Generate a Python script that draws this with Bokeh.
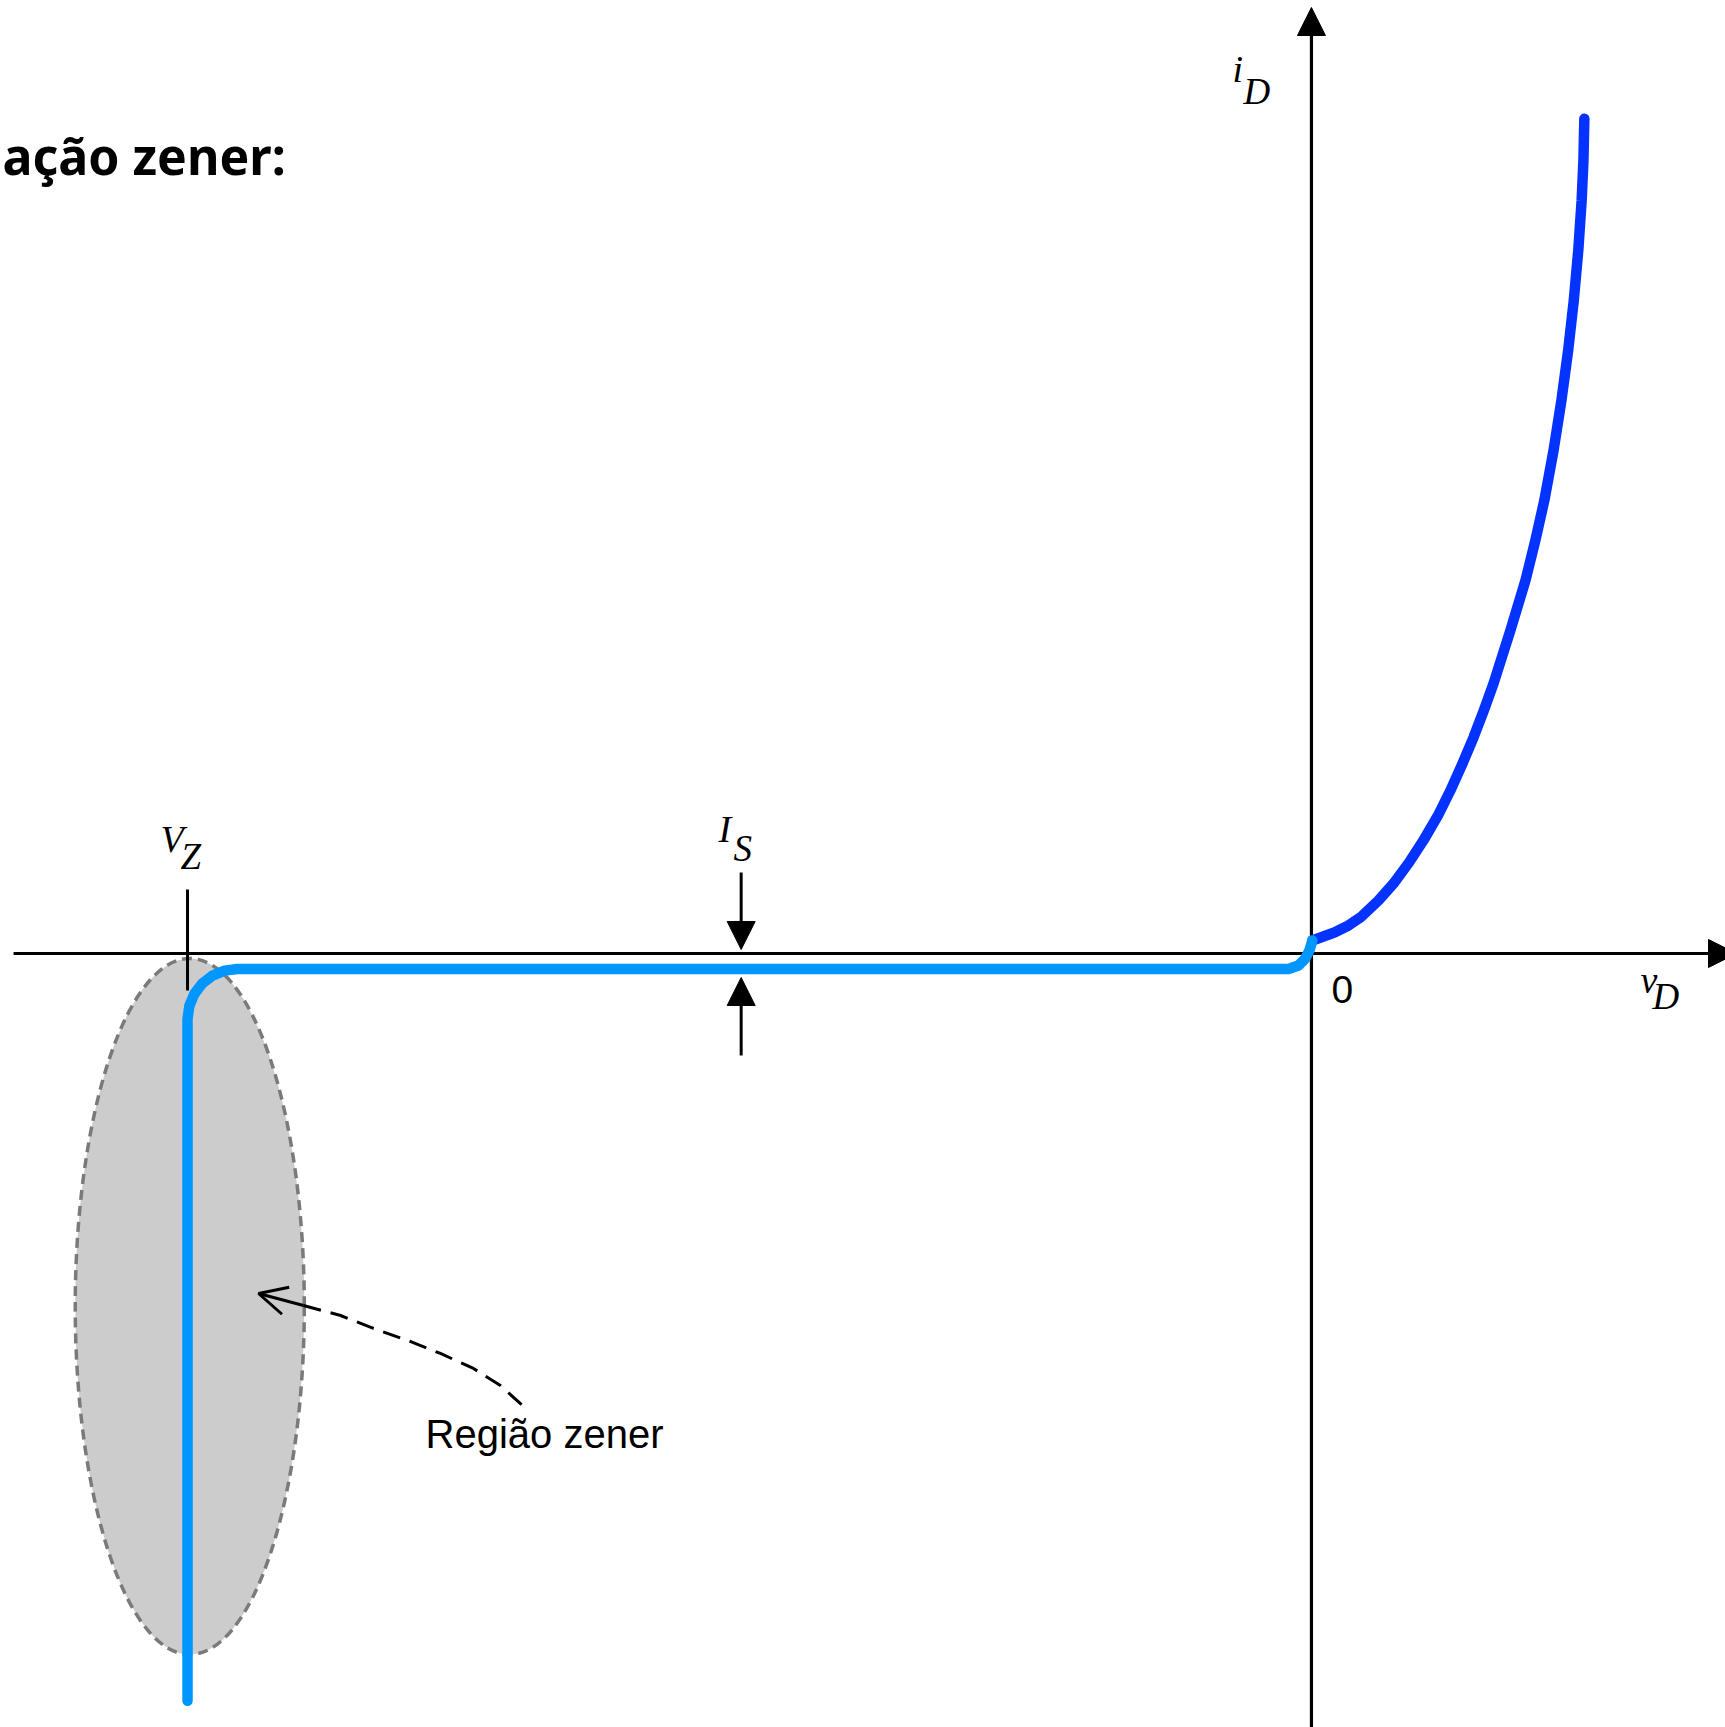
from bokeh.plotting import figure
from bokeh.models import Range1d, Arrow, NormalHead, OpenHead, ColumnDataSource
from bokeh.core.properties import value
from bokeh.embed import file_html
from bokeh.resources import INLINE

# Zener diode i-v characteristic: v_D in volts, i_D in mA (schematic scale)
V_Z = -5.0          # zener breakdown voltage
I_S = -0.186        # reverse saturation current level

# forward branch
fwd_v = [0.004, 0.053, 0.102, 0.165, 0.218, 0.298, 0.365, 0.434, 0.498,
         0.563, 0.618, 0.672, 0.721, 0.767, 0.810, 0.885, 0.952, 0.996,
         1.036, 1.077, 1.112, 1.142, 1.167, 1.187, 1.202, 1.210, 1.214]
fwd_i = [0.156, 0.204, 0.252, 0.336, 0.432, 0.635, 0.839, 1.091, 1.355,
         1.655, 1.954, 2.278, 2.590, 2.914, 3.237, 3.873, 4.472, 4.952,
         5.432, 6.031, 6.631, 7.230, 7.830, 8.429, 9.029, 9.508, 10.01]

# reverse branch: breakdown at V_Z, flat at I_S, joining the forward branch at 0
rev_v = [-5.0, -5.0, -4.992, -4.970, -4.935, -4.889, -4.835, -4.778,
         -0.102, -0.058, -0.027, -0.009, 0.004]
rev_i = [-8.96, -0.785, -0.631, -0.486, -0.361, -0.266, -0.206, I_S,
         I_S, -0.144, -0.060, 0.036, 0.156]

# zener region (shaded ellipse)
zone_x, zone_y = -4.99, -4.233
zone_w, zone_h = 1.019, 8.345

# callout pointing at the zener region
call_v = [-4.484, -4.319, -4.173, -4.021, -3.875, -3.728, -3.608, -3.510]
call_i = [-4.221, -4.341, -4.496, -4.640, -4.796, -4.976, -5.180, -5.420]
call_tip = (-4.684, -4.077)

# view window
X_MIN, X_MAX = -5.832, 1.842
Y_MIN, Y_MAX = -9.281, 11.427

BLUE_FWD = "#0433ff"
BLUE_REV = "#0096ff"

p = figure(width=1725, height=1727, output_backend="svg", toolbar_location=None,
           x_range=Range1d(X_MIN, X_MAX), y_range=Range1d(Y_MIN, Y_MAX),
           x_axis_location=None, y_axis_location=None, min_border=0)
p.grid.visible = False
p.outline_line_color = None
p.background_fill_color = "white"
p.border_fill_color = "white"

# shaded zener region
p.ellipse(x=[zone_x], y=[zone_y], width=[zone_w], height=[zone_h],
          fill_color="#cccccc", line_color="#7a7a7a", line_width=3.5,
          line_dash="10 6")

# coordinate axes with arrow heads
for xs, ys, xe, ye in [(-5.774, 0.0, 1.891, 0.0), (0.0, Y_MIN - 0.2, 0.0, 11.343)]:
    p.add_layout(Arrow(x_start=xs, y_start=ys, x_end=xe, y_end=ye,
                       line_width=3.2, line_color="black", level="underlay",
                       end=NormalHead(size=28, fill_color="black",
                                      line_color="black", line_width=1)))

# V_Z tick mark
p.segment(x0=[V_Z], y0=[0.767], x1=[V_Z], y1=[-0.444], line_width=3,
          line_color="black")

# I_S indicator arrows
for ys, ye in [(0.971, 0.048), (-1.223, -0.288)]:
    p.add_layout(Arrow(x_start=-2.537, y_start=ys, x_end=-2.537, y_end=ye,
                       line_width=3, line_color="black",
                       end=NormalHead(size=28, fill_color="black",
                                      line_color="black", line_width=1)))

# characteristic curves
p.line(fwd_v, fwd_i, line_color=BLUE_FWD, line_width=10.5,
       line_cap="round", line_join="round")
p.line(rev_v, rev_i, line_color=BLUE_REV, line_width=10.5,
       line_cap="round", line_join="round")

# callout
p.line(call_v, call_i, line_color="black", line_width=3, line_dash="18 10")
p.add_layout(Arrow(x_start=call_v[0], y_start=call_i[0],
                   x_end=call_tip[0], y_end=call_tip[1],
                   line_width=3, line_color="black",
                   end=OpenHead(size=28, line_width=3, line_color="black")))

# italic symbols with subscripts
sym = ColumnDataSource(dict(
    x=[-0.351, 1.464, -5.120, -2.638],
    y=[10.604, -0.319, 1.372, 1.492],
    t=["i", "v", "V", "I"]))
sub = ColumnDataSource(dict(
    x=[-0.302, 1.517, -5.031, -2.571],
    y=[10.337, -0.514, 1.164, 1.260],
    t=["D", "D", "Z", "S"]))
p.text(x="x", y="y", text="t", source=sym, text_font=value("Liberation Serif"),
       text_font_style="italic", text_font_size="38px", text_color="black",
       text_baseline="alphabetic", text_align="left")
p.text(x="x", y="y", text="t", source=sub, text_font=value("Liberation Serif"),
       text_font_style="italic", text_font_size="37px", text_color="black",
       text_baseline="alphabetic", text_align="left")

# origin label and region caption
p.text(x=[0.089], y=[-0.434], text=["0"], text_font=value("Liberation Sans"),
       text_font_size="39px", text_color="black", text_baseline="alphabetic")
p.text(x=[-3.941], y=[-5.758], text=["Região zener"],
       text_font=value("Liberation Sans"), text_font_size="40px",
       text_color="black", text_baseline="alphabetic")

# heading
p.text(x=[-5.823], y=[9.568], text=["ação zener:"], text_font=value("Noto Sans"),
       text_font_style="bold", text_font_size="50px", text_color="black",
       text_baseline="alphabetic", text_align="left")

open("out.html", "w").write(file_html(p, INLINE))
